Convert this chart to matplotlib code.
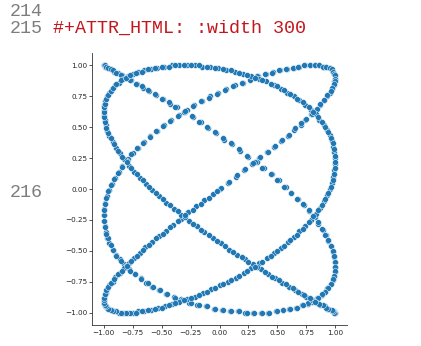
import matplotlib
matplotlib.use("Agg")
import matplotlib.pyplot as plt

# points of the curve
x_vals = [
    0.00, 0.07, 0.14, 0.21, 0.28, 0.34, 0.41, 0.47, 0.53, 0.59,
    0.64, 0.70, 0.74, 0.79, 0.83, 0.87, 0.90, 0.93, 0.95, 0.97,
    0.99, 0.99, 1.00, 1.00, 0.99, 0.98, 0.97, 0.95, 0.92, 0.90,
    0.86, 0.82, 0.78, 0.74, 0.69, 0.64, 0.58, 0.52, 0.46, 0.40,
    0.33, 0.27, 0.20, 0.13, 0.06, -0.01, -0.08, -0.15, -0.22, -0.28,
    -0.35, -0.42, -0.48, -0.54, -0.60, -0.65, -0.70, -0.75, -0.79, -0.84,
    -0.87, -0.90, -0.93, -0.95, -0.97, -0.99, -1.00, -1.00, -1.00, -0.99,
    -0.98, -0.97, -0.95, -0.92, -0.89, -0.86, -0.82, -0.78, -0.73, -0.68,
    -0.63, -0.58, -0.52, -0.46, -0.39, -0.33, -0.26, -0.19, -0.12, -0.05,
    0.02, 0.09, 0.16, 0.22, 0.29, 0.36, 0.42, 0.49, 0.55, 0.60,
    0.66, 0.71, 0.76, 0.80, 0.84, 0.88, 0.91, 0.93, 0.96, 0.98,
    0.99, 1.00, 1.00, 1.00, 0.99, 0.98, 0.96, 0.94, 0.92, 0.89,
    0.85, 0.82, 0.77, 0.73, 0.68, 0.62, 0.57, 0.51, 0.45, 0.38,
    0.32, 0.25, 0.18, 0.11, 0.04, -0.03, -0.10, -0.16, -0.23, -0.30,
    -0.37, -0.43, -0.49, -0.55, -0.61, -0.66, -0.71, -0.76, -0.80, -0.84,
    -0.88, -0.91, -0.94, -0.96, -0.98, -0.99, -1.00, -1.00, -1.00, -0.99,
    -0.98, -0.96, -0.94, -0.92, -0.89, -0.85, -0.81, -0.77, -0.72, -0.67,
    -0.62, -0.56, -0.50, -0.44, -0.38, -0.31, -0.24, -0.18, -0.11, -0.04,
    0.03, 0.10, 0.17, 0.24, 0.31, 0.37, 0.44, 0.50, 0.56, 0.62,
    0.67, 0.72, 0.77, 0.81, 0.85, 0.88, 0.91, 0.94, 0.96, 0.98,
    0.99, 1.00, 1.00, 1.00, 0.99, 0.98, 0.96, 0.94, 0.91, 0.88,
    0.85, 0.81, 0.76, 0.72, 0.67, 0.61, 0.55, 0.50, 0.43, 0.37,
    0.30, 0.24, 0.17, 0.10, 0.03, -0.04, -0.11, -0.18, -0.25, -0.32,
    -0.38, -0.45, -0.51, -0.57, -0.62, -0.68, -0.73, -0.77, -0.81, -0.85,
    -0.89, -0.92, -0.94, -0.96, -0.98, -0.99, -1.00, -1.00, -1.00, -0.99,
    -0.98, -0.96, -0.94, -0.91, -0.88, -0.84, -0.80, -0.76, -0.71, -0.66,
    -0.60, -0.55, -0.49, -0.43, -0.36, -0.30, -0.23, -0.16, -0.09, -0.02,
    0.05, 0.12, 0.19, 0.26, 0.32, 0.39, 0.45, 0.51, 0.57, 0.63,
    0.68, 0.73, 0.78, 0.82, 0.86, 0.89, 0.92, 0.95, 0.97, 0.98,
    0.99, 1.00, 1.00, 1.00, 0.99, 0.97, 0.96, 0.93, 0.90, 0.87,
    0.84, 0.80, 0.75, 0.70, 0.65, 0.60, 0.54, 0.48, 0.42, 0.35,
    0.29, 0.22, 0.15, 0.08, 0.01, -0.06, -0.13, -0.20, -0.27, -0.33,
    -0.40, -0.46, -0.52, -0.58, -0.64, -0.69, -0.74, -0.78, -0.82, -0.86,
    -0.90, -0.92, -0.95, -0.97, -0.98, -0.99, -1.00, -1.00, -1.00, -0.99,
    -0.97, -0.95, -0.93, -0.90, -0.87, -0.83, -0.79, -0.75, -0.70, -0.65,
    -0.59, -0.53, -0.47, -0.41, -0.35, -0.28, -0.21, -0.14, -0.07, 0.00,
    0.07, 0.14, 0.21, 0.27, 0.34, 0.41, 0.47, 0.53, 0.59, 0.64,
    0.69, 0.74, 0.79, 0.83, 0.87, 0.90, 0.93, 0.95, 0.97, 0.98,
    0.99, 1.00, 1.00, 0.99, 0.98, 0.97, 0.95, 0.93, 0.90, 0.86,
    0.83, 0.79, 0.74, 0.69, 0.64, 0.58, 0.53, 0.47, 0.40, 0.34,
    0.27, 0.20, 0.13, 0.06, -0.01, -0.08, -0.15, -0.21, -0.28, -0.35,
    -0.41, -0.48, -0.54, -0.59, -0.65, -0.70, -0.75, -0.79, -0.83, -0.87,
    -0.90, -0.93, -0.95, -0.97, -0.99, -1.00, -1.00, -1.00, -0.99, -0.98,
    -0.97, -0.95, -0.92, -0.89, -0.86, -0.82, -0.78, -0.74, -0.69, -0.63,
    -0.58, -0.52, -0.46, -0.39, -0.33, -0.26, -0.19, -0.13, -0.06, 0.01,
    0.08, 0.15, 0.22, 0.29, 0.36, 0.42, 0.48, 0.54, 0.60, 0.65,
    0.71, 0.75, 0.80, 0.84, 0.87, 0.91, 0.93, 0.96, 0.97, 0.99,
    1.00, 1.00, 1.00, 0.99, 0.98, 0.97, 0.94, 0.92, 0.89, 0.86,
    0.82, 0.78, 0.73, 0.68, 0.63, 0.57, 0.51, 0.45, 0.39, 0.32,
    0.25, 0.19, 0.12, 0.05, -0.02, -0.09, -0.16, -0.23, -0.30, -0.36,
    -0.43, -0.49, -0.55, -0.61, -0.66, -0.71, -0.76, -0.80, -0.84, -0.88,
    -0.91, -0.94, -0.96, -0.98, -0.99, -1.00, -1.00, -1.00, -0.99, -0.98,
    -0.96, -0.94, -0.92, -0.89, -0.85, -0.81, -0.77, -0.72, -0.67, -0.62,
    -0.56, -0.50, -0.44, -0.38, -0.31, -0.25, -0.18, -0.11, -0.04, 0.03,
    0.10, 0.17, 0.24, 0.31, 0.37, 0.44, 0.50, 0.56, 0.61, 0.67,
    0.72, 0.77, 0.81, 0.85, 0.88, 0.91, 0.94, 0.96, 0.98, 0.99,
    1.00, 1.00, 1.00, 0.99, 0.98, 0.96, 0.94, 0.91, 0.88, 0.85,
    0.81, 0.77, 0.72, 0.67, 0.61, 0.56, 0.50, 0.44, 0.37, 0.31,
    0.24, 0.17, 0.10, 0.03, -0.04, -0.11, -0.18, -0.25, -0.31, -0.38,
    -0.44, -0.50, -0.56, -0.62, -0.67, -0.72, -0.77, -0.81, -0.85, -0.89,
    -0.92, -0.94, -0.96, -0.98, -0.99, -1.00, -1.00, -1.00, -0.99, -0.98,
    -0.96, -0.94, -0.91, -0.88, -0.84, -0.80, -0.76, -0.71, -0.66, -0.61,
    -0.55, -0.49, -0.43, -0.36, -0.30, -0.23, -0.16, -0.09, -0.02,
]

y_vals = [
    0.00, 0.05, 0.10, 0.15, 0.20, 0.25, 0.30, 0.34, 0.39, 0.43,
    0.48, 0.52, 0.56, 0.61, 0.64, 0.68, 0.72, 0.75, 0.78, 0.81,
    0.84, 0.87, 0.89, 0.91, 0.93, 0.95, 0.96, 0.98, 0.99, 0.99,
    1.00, 1.00, 1.00, 1.00, 0.99, 0.98, 0.97, 0.96, 0.95, 0.93,
    0.91, 0.89, 0.86, 0.84, 0.81, 0.78, 0.75, 0.71, 0.68, 0.64,
    0.60, 0.56, 0.52, 0.47, 0.43, 0.38, 0.33, 0.29, 0.24, 0.19,
    0.14, 0.09, 0.04, -0.01, -0.06, -0.11, -0.16, -0.21, -0.26, -0.30,
    -0.35, -0.40, -0.44, -0.49, -0.53, -0.57, -0.61, -0.65, -0.69, -0.72,
    -0.76, -0.79, -0.82, -0.85, -0.87, -0.89, -0.92, -0.94, -0.95, -0.97,
    -0.98, -0.99, -0.99, -1.00, -1.00, -1.00, -1.00, -0.99, -0.98, -0.97,
    -0.96, -0.94, -0.93, -0.91, -0.88, -0.86, -0.83, -0.80, -0.77, -0.74,
    -0.71, -0.67, -0.63, -0.59, -0.55, -0.51, -0.46, -0.42, -0.37, -0.33,
    -0.28, -0.23, -0.18, -0.13, -0.08, -0.03, 0.02, 0.07, 0.12, 0.17,
    0.22, 0.26, 0.31, 0.36, 0.40, 0.45, 0.49, 0.54, 0.58, 0.62,
    0.66, 0.69, 0.73, 0.76, 0.79, 0.82, 0.85, 0.88, 0.90, 0.92,
    0.94, 0.95, 0.97, 0.98, 0.99, 0.99, 1.00, 1.00, 1.00, 1.00,
    0.99, 0.98, 0.97, 0.96, 0.94, 0.92, 0.90, 0.88, 0.85, 0.83,
    0.80, 0.77, 0.73, 0.70, 0.66, 0.62, 0.59, 0.54, 0.50, 0.46,
    0.41, 0.37, 0.32, 0.27, 0.22, 0.17, 0.12, 0.07, 0.02, -0.03,
    -0.08, -0.12, -0.17, -0.22, -0.27, -0.32, -0.37, -0.41, -0.46, -0.50,
    -0.54, -0.59, -0.63, -0.66, -0.70, -0.73, -0.77, -0.80, -0.83, -0.85,
    -0.88, -0.90, -0.92, -0.94, -0.96, -0.97, -0.98, -0.99, -1.00, -1.00,
    -1.00, -1.00, -0.99, -0.99, -0.98, -0.97, -0.95, -0.94, -0.92, -0.90,
    -0.88, -0.85, -0.82, -0.79, -0.76, -0.73, -0.69, -0.66, -0.62, -0.58,
    -0.54, -0.49, -0.45, -0.40, -0.36, -0.31, -0.26, -0.21, -0.17, -0.12,
    -0.07, -0.02, 0.03, 0.08, 0.13, 0.18, 0.23, 0.28, 0.33, 0.37,
    0.42, 0.47, 0.51, 0.55, 0.59, 0.63, 0.67, 0.71, 0.74, 0.77,
    0.80, 0.83, 0.86, 0.88, 0.91, 0.93, 0.94, 0.96, 0.97, 0.98,
    0.99, 1.00, 1.00, 1.00, 1.00, 0.99, 0.99, 0.98, 0.97, 0.95,
    0.93, 0.92, 0.89, 0.87, 0.85, 0.82, 0.79, 0.76, 0.72, 0.69,
    0.65, 0.61, 0.57, 0.53, 0.49, 0.44, 0.40, 0.35, 0.30, 0.26,
    0.21, 0.16, 0.11, 0.06, 0.01, -0.04, -0.09, -0.14, -0.19, -0.24,
    -0.29, -0.34, -0.38, -0.43, -0.47, -0.52, -0.56, -0.60, -0.64, -0.68,
    -0.71, -0.75, -0.78, -0.81, -0.84, -0.86, -0.89, -0.91, -0.93, -0.95,
    -0.96, -0.97, -0.98, -0.99, -1.00, -1.00, -1.00, -1.00, -0.99, -0.99,
    -0.98, -0.96, -0.95, -0.93, -0.91, -0.89, -0.87, -0.84, -0.81, -0.78,
    -0.75, -0.72, -0.68, -0.64, -0.60, -0.56, -0.52, -0.48, -0.43, -0.39,
    -0.34, -0.30, -0.25, -0.20, -0.15, -0.10, -0.05, 0.00, 0.05, 0.10,
    0.15, 0.20, 0.25, 0.30, 0.34, 0.39, 0.44, 0.48, 0.52, 0.56,
    0.61, 0.64, 0.68, 0.72, 0.75, 0.78, 0.81, 0.84, 0.87, 0.89,
    0.91, 0.93, 0.95, 0.96, 0.98, 0.99, 0.99, 1.00, 1.00, 1.00,
    1.00, 0.99, 0.98, 0.97, 0.96, 0.95, 0.93, 0.91, 0.89, 0.86,
    0.84, 0.81, 0.78, 0.75, 0.71, 0.68, 0.64, 0.60, 0.56, 0.52,
    0.47, 0.43, 0.38, 0.33, 0.29, 0.24, 0.19, 0.14, 0.09, 0.04,
    -0.01, -0.06, -0.11, -0.16, -0.21, -0.26, -0.30, -0.35, -0.40, -0.44,
    -0.49, -0.53, -0.57, -0.61, -0.65, -0.69, -0.72, -0.76, -0.79, -0.82,
    -0.85, -0.87, -0.90, -0.92, -0.94, -0.95, -0.97, -0.98, -0.99, -0.99,
    -1.00, -1.00, -1.00, -1.00, -0.99, -0.98, -0.97, -0.96, -0.94, -0.93,
    -0.91, -0.88, -0.86, -0.83, -0.80, -0.77, -0.74, -0.71, -0.67, -0.63,
    -0.59, -0.55, -0.51, -0.46, -0.42, -0.37, -0.33, -0.28, -0.23, -0.18,
    -0.13, -0.08, -0.03, 0.02, 0.07, 0.12, 0.17, 0.22, 0.26, 0.31,
    0.36, 0.41, 0.45, 0.49, 0.54, 0.58, 0.62, 0.66, 0.69, 0.73,
    0.76, 0.79, 0.82, 0.85, 0.88, 0.90, 0.92, 0.94, 0.95, 0.97,
    0.98, 0.99, 0.99, 1.00, 1.00, 1.00, 1.00, 0.99, 0.98, 0.97,
    0.96, 0.94, 0.92, 0.90, 0.88, 0.85, 0.83, 0.80, 0.77, 0.73,
    0.70, 0.66, 0.62, 0.58, 0.54, 0.50, 0.46, 0.41, 0.37, 0.32,
    0.27, 0.22, 0.17, 0.12, 0.07, 0.02, -0.03, -0.08, -0.13, -0.17,
    -0.22, -0.27, -0.32, -0.37, -0.41, -0.46, -0.50, -0.54, -0.59, -0.63,
    -0.66, -0.70, -0.74, -0.77, -0.80, -0.83, -0.86, -0.88, -0.90, -0.92,
    -0.94, -0.96, -0.97, -0.98, -0.99, -1.00, -1.00, -1.00, -1.00, -0.99,
    -0.99, -0.98, -0.97, -0.95, -0.94, -0.92, -0.90, -0.88, -0.85, -0.82,
    -0.79, -0.76, -0.73, -0.69, -0.66, -0.62, -0.58, -0.54, -0.49, -0.45,
    -0.40, -0.36, -0.31, -0.26, -0.21, -0.17, -0.12, -0.07, -0.02,
]

tick_vals = [-1.00, -0.75, -0.50, -0.25, 0.00, 0.25, 0.50, 0.75, 1.00]

# editor lines around the embedded image
top_numbers = "214\n215"
img_number = "216"
attr_line = "#+ATTR_HTML: :width 300"

W, H = 421, 346
fig = plt.figure(figsize=(W / 100, H / 100), dpi=100)
fig.patch.set_facecolor("white")

gray = "#7d7d7d"
fig.text(10 / W, 1 - 33 / H, top_numbers, family="Liberation Mono", fontsize=13.2,
         color=gray, va="baseline", ha="left", linespacing=0.98)
fig.text(10 / W, 1 - 197 / H, img_number, family="Liberation Mono", fontsize=13.2,
         color=gray, va="baseline", ha="left")
fig.text(53 / W, 1 - 33 / H, attr_line, family="Liberation Mono", fontsize=13.2,
         color="#c4161c", va="baseline", ha="left")

ax = fig.add_axes([92 / W, 1 - 325 / H, 255 / W, 272 / H])
ax.scatter(x_vals, y_vals, s=18, c="#1f77b4", edgecolors="white", linewidths=0.35)
ax.set_xlim(-1.1, 1.1)
ax.set_ylim(-1.1, 1.1)
ax.set_xticks(tick_vals)
ax.set_yticks(tick_vals)

for side in ("top", "right"):
    ax.spines[side].set_visible(False)
for side in ("left", "bottom"):
    ax.spines[side].set_linewidth(0.6)
    ax.spines[side].set_color("#333333")
ax.tick_params(labelsize=5.2, length=2, width=0.6, pad=1.5,
               colors="#333333", labelcolor="#262626")

fig.savefig("out.png", dpi=100, facecolor="white")
